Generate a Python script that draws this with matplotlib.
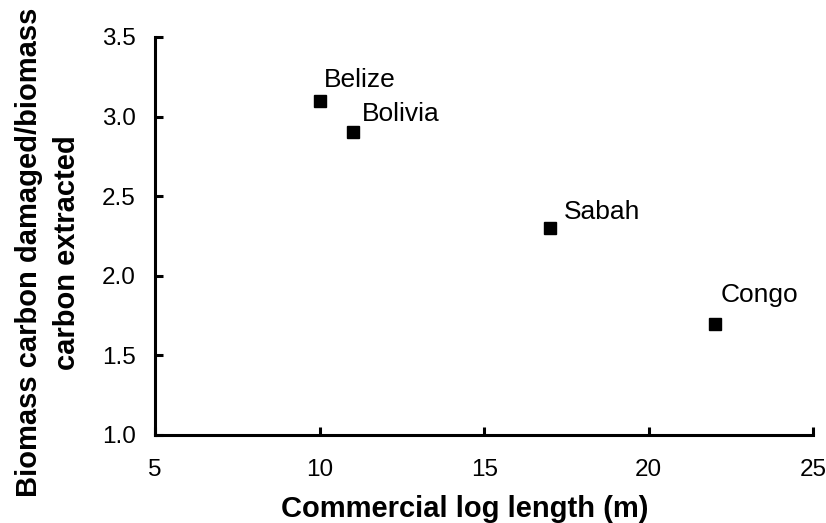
import matplotlib.pyplot as plt

plt.rcParams['font.family'] = ['Liberation Sans', 'DejaVu Sans']

# data
countries = ['Belize', 'Bolivia', 'Sabah', 'Congo']
log_length = [10, 11, 17, 22]
carbon_ratio = [3.1, 2.9, 2.3, 1.7]
# label offsets in points (dx, dy)
label_offsets = [(3, 10), (6.5, 8), (10, 6.5), (4, 15.5)]

fig = plt.figure(figsize=(8.26, 5.23), dpi=100)
ax = fig.add_axes([0.1877, 0.1683, 0.797, 0.761])

ax.plot(log_length, carbon_ratio, linestyle='none', marker='s',
        markersize=8.5, color='black')

for name, x, y, off in zip(countries, log_length, carbon_ratio, label_offsets):
    ax.annotate(name, (x, y), xytext=off, textcoords='offset points',
                ha='left', va='baseline', fontsize=19)

ax.set_xlim(5, 25)
ax.set_ylim(1.0, 3.5)
ax.set_xticks([5, 10, 15, 20, 25])
ax.set_yticks([1.0, 1.5, 2.0, 2.5, 3.0, 3.5])
ax.set_yticklabels(['1.0', '1.5', '2.0', '2.5', '3.0', '3.5'])

for side in ['top', 'right']:
    ax.spines[side].set_visible(False)
for side in ['left', 'bottom']:
    ax.spines[side].set_linewidth(2.2)

ax.tick_params(direction='in', length=5.5, width=2.2, labelsize=17.5)
ax.tick_params(axis='y', pad=14)
ax.tick_params(axis='x', pad=17)

ax.set_xlabel('Commercial log length (m)', fontsize=21, fontweight='bold')
ax.xaxis.set_label_coords(0.47, -0.152)
ax.set_ylabel('Biomass carbon damaged/biomass\ncarbon extracted',
              fontsize=21, fontweight='bold', linespacing=1.45)
ax.yaxis.set_label_coords(-0.112, 0.459)

fig.savefig('out.png', dpi=100)
